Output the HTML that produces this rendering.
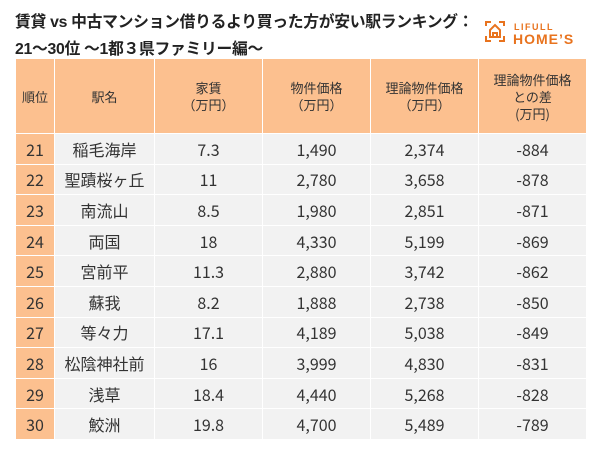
<!DOCTYPE html>
<html><head><meta charset="utf-8"><style>
body{margin:0;width:600px;height:450px;background:#fff;font-family:"Liberation Sans","Noto Sans CJK JP",sans-serif;position:relative;overflow:hidden}
.t{position:absolute;left:15px;top:9px;font-size:15.8px;font-weight:bold;color:#222;line-height:27px;letter-spacing:-0.3px;white-space:nowrap}
table{position:absolute;left:15px;top:58px;border-collapse:collapse;table-layout:fixed}
td{border:1px solid #fff;text-align:center;color:#333;padding:0;height:29.6px;font-size:16px;line-height:20px;background:#f2f2f2;vertical-align:middle;font-family:"Noto Sans CJK JP",sans-serif}
tr.h td{background:#fcc08f;height:74px;font-size:13px;line-height:17px}
td.r{background:#fcc08f}
</style></head><body>
<div class="t">賃貸 vs 中古マンション借りるより買った方が安い駅ランキング：<br>21～30位 ～1都３県ファミリー編～</div>
<svg style="position:absolute;left:484px;top:20px" width="100" height="26">
<g stroke="#e8731e" stroke-width="2" fill="none">
<path d="M2 6V2h5M15 2h5v4M2 16v5h5M15 21h5v-5"/>
<path d="M6 17V10l5-5 5 5v7z"/><path d="M9 17v-4h4v4"/>
</g>
<text x="30" y="10" font-size="9" font-weight="bold" fill="#e8731e" font-family="Liberation Sans" letter-spacing="1.5">LIFULL</text>
<text x="29" y="24" font-size="14" font-weight="bold" fill="#e8731e" font-family="Liberation Sans" letter-spacing="1">HOME’S</text>
</svg>
<table>
<colgroup><col style="width:39px"><col style="width:100px"><col style="width:108px"><col style="width:108px"><col style="width:108px"><col style="width:108px"></colgroup>
<tr class="h"><td>順位</td><td>駅名</td><td>家賃<br>（万円）</td><td>物件価格<br>（万円）</td><td>理論物件価格<br>（万円）</td><td>理論物件価格<br>との差<br>(万円)</td></tr>
<tr><td class="r">21</td><td>稲毛海岸</td><td>7.3</td><td>1,490</td><td>2,374</td><td>-884</td></tr>
<tr><td class="r">22</td><td>聖蹟桜ヶ丘</td><td>11</td><td>2,780</td><td>3,658</td><td>-878</td></tr>
<tr><td class="r">23</td><td>南流山</td><td>8.5</td><td>1,980</td><td>2,851</td><td>-871</td></tr>
<tr><td class="r">24</td><td>両国</td><td>18</td><td>4,330</td><td>5,199</td><td>-869</td></tr>
<tr><td class="r">25</td><td>宮前平</td><td>11.3</td><td>2,880</td><td>3,742</td><td>-862</td></tr>
<tr><td class="r">26</td><td>蘇我</td><td>8.2</td><td>1,888</td><td>2,738</td><td>-850</td></tr>
<tr><td class="r">27</td><td>等々力</td><td>17.1</td><td>4,189</td><td>5,038</td><td>-849</td></tr>
<tr><td class="r">28</td><td>松陰神社前</td><td>16</td><td>3,999</td><td>4,830</td><td>-831</td></tr>
<tr><td class="r">29</td><td>浅草</td><td>18.4</td><td>4,440</td><td>5,268</td><td>-828</td></tr>
<tr><td class="r">30</td><td>鮫洲</td><td>19.8</td><td>4,700</td><td>5,489</td><td>-789</td></tr>
</table>
</body></html>
